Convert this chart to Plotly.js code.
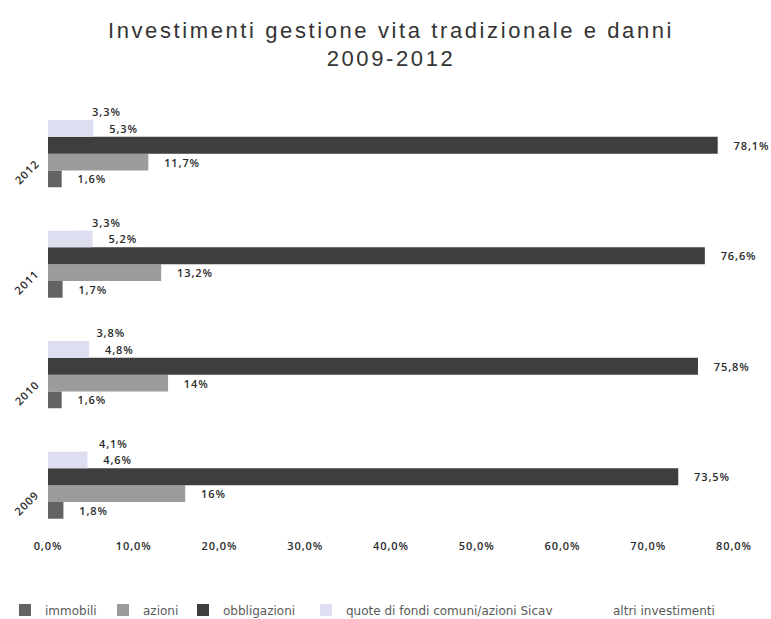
<!DOCTYPE html>
<html>
<head>
<meta charset="utf-8">
<script src="https://cdn.plot.ly/plotly-3.0.1.min.js"></script>
<style>
html,body{margin:0;padding:0;background:#fff;}
#chart{width:771px;height:619px;}
.gtitle{letter-spacing:2.6px;}
.bartext, .xtick text, .annotation-text{letter-spacing:0.9px;}
</style>
</head>
<body>
<div id="chart"></div>
<script>
const years = ['2009', '2010', '2011', '2012'];
const seriesNames = ['immobili', 'azioni', 'obbligazioni', 'quote di fondi comuni/azioni Sicav', 'altri investimenti'];
const immobili = [1.8, 1.6, 1.7, 1.6];
const azioni = [16, 14, 13.2, 11.7];
const obbligazioni = [73.5, 75.8, 76.6, 78.1];
const quoteFondi = [4.6, 4.8, 5.2, 5.3];
const altriInvestimenti = [4.1, 3.8, 3.3, 3.3];
const xTickVals = [0, 10, 20, 30, 40, 50, 60, 70, 80];
const xTickText = ['0,0%', '10,0%', '20,0%', '30,0%', '40,0%', '50,0%', '60,0%', '70,0%', '80,0%'];

const seriesValues = [immobili, azioni, obbligazioni, quoteFondi, altriInvestimenti];
const colors = ['#636363', '#9c9c9c', '#3e3e3e', '#dddff0', '#ffffff'];
const legendIds = ['legend', 'legend2', 'legend3', 'legend4', 'legend5'];
const legendX = [-0.0627, 0.0802, 0.1968, 0.3761, 0.7653];
const fmt = v => '\u2002\u2002' + (Number.isInteger(v) ? String(v) : v.toFixed(1).replace('.', ',')) + '%';

const traces = seriesValues.map((vals, i) => ({
  type: 'bar',
  orientation: 'h',
  name: seriesNames[i],
  y: years,
  x: vals,
  text: vals.map(fmt),
  textposition: 'outside',
  cliponaxis: false,
  textfont: {family: 'Open Sans, sans-serif', size: 11, color: '#2a2a2a', weight: 600},
  marker: {color: colors[i], line: {width: 0}},
  legend: legendIds[i],
  hoverinfo: 'x+name'
}));

const yearAnnotations = years.map((y, i) => ({
  xref: 'paper', yref: 'y',
  x: -0.031, y: i,
  yshift: -26,
  text: y,
  showarrow: false,
  textangle: -45,
  font: {family: 'Open Sans, sans-serif', size: 11, color: '#2a2a2a', weight: 600},
  xanchor: 'center', yanchor: 'middle'
}));

const layout = {
  width: 771,
  height: 619,
  margin: {l: 48, r: 37, t: 90, b: 87},
  paper_bgcolor: '#fff',
  plot_bgcolor: '#fff',
  barmode: 'group',
  bargap: 0.24,
  bargroupgap: 0,
  title: {
    text: 'Investimenti gestione vita tradizionale e danni<br>2009-2012',
    font: {family: 'Liberation Sans, Arial, sans-serif', size: 22, color: '#333'},
    x: 0.5, xanchor: 'center', xref: 'paper',
    y: 0.939, yanchor: 'middle', yref: 'container'
  },
  xaxis: {
    range: [0, 80],
    tickvals: xTickVals,
    ticktext: xTickText,
    showgrid: false,
    zeroline: false,
    showline: false,
    ticks: '',
    ticklabelstandoff: 6,
    tickfont: {family: 'Open Sans, sans-serif', size: 11, color: '#2a2a2a', weight: 600},
    fixedrange: true
  },
  yaxis: {
    type: 'category',
    categoryorder: 'array',
    categoryarray: years,
    range: [-0.5, years.length - 0.5],
    autorange: false,
    showgrid: false,
    zeroline: false,
    showline: false,
    ticks: '',
    showticklabels: false,
    fixedrange: true
  },
  annotations: yearAnnotations,
  showlegend: true
};

legendIds.forEach((id, i) => {
  layout[id] = {
    orientation: 'h',
    x: legendX[i], xanchor: 'left', xref: 'paper',
    y: 0.0145, yanchor: 'middle', yref: 'container',
    bgcolor: 'rgba(0,0,0,0)',
    font: {family: 'DejaVu Sans, sans-serif', size: 12, color: '#5a5a5a'}
  };
});

Plotly.newPlot('chart', traces, layout, {displayModeBar: false, staticPlot: true});
</script>
</body>
</html>
